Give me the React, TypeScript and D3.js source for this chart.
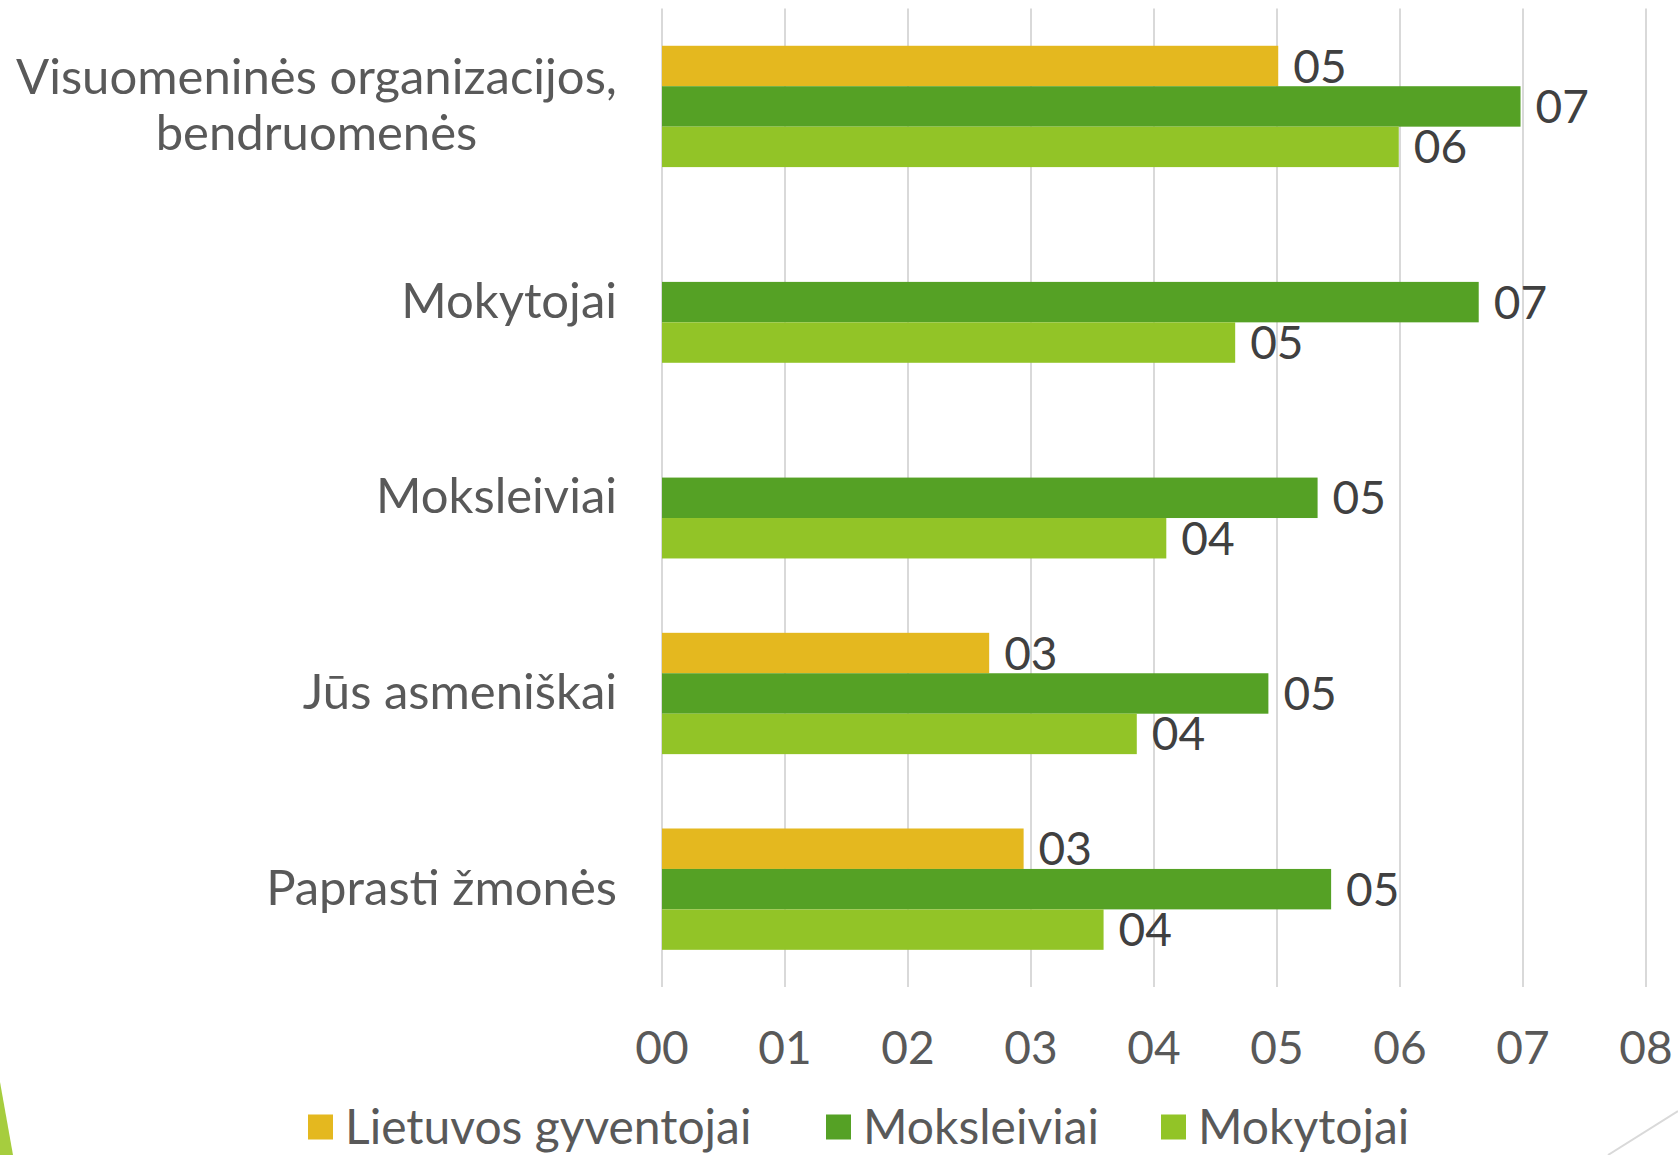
import * as d3 from 'd3';
import React, { useEffect, useRef } from 'react';

const categories = [
  'Visuomeninės organizacijos,\nbendruomenės',
  'Mokytojai',
  'Moksleiviai',
  'Jūs asmeniškai',
  'Paprasti žmonės',
];
const seriesNames = ['Lietuvos gyventojai', 'Moksleiviai', 'Mokytojai'];
const seriesColors = ['#E4B81F', '#55A125', '#92C427'];

// (labels are rounded to whole numbers)
const gyventojai = [5.01, null, null, 2.66, 2.94];
const moksleiviai = [6.98, 6.64, 5.33, 4.93, 5.44];
const mokytojai = [5.99, 4.66, 4.1, 3.86, 3.59];
const xTicks = [0, 1, 2, 3, 4, 5, 6, 7, 8];

const W = 1678;
const H = 1155;
const FONT = 'Lato, "Open Sans", sans-serif';

export default function App() {
  const ref = useRef<SVGSVGElement>(null);

  useEffect(() => {
    const svg = d3.select(ref.current);
    svg.selectAll('*').remove();

    const x = d3.scaleLinear().domain([0, 8]).range([662, 1646]);
    const y = d3.scaleBand<string>().domain(categories).range([8.6, 987]).paddingInner(0.38).paddingOuter(0.19);
    const ySub = d3.scaleBand<string>().domain(seriesNames).range([0, y.bandwidth()]);
    const color = d3.scaleOrdinal<string>().domain(seriesNames).range(seriesColors);
    const fmt = d3.format('02.0f');

    const values = [gyventojai, moksleiviai, mokytojai];
    const rows = categories.flatMap((c, i) =>
      seriesNames.map((s, j) => ({ cat: c, series: s, value: values[j][i] })).filter((d) => d.value != null)
    ) as { cat: string; series: string; value: number }[];

    // decorations from the slide
    svg.append('polygon').attr('points', '0,1082 0,1155 13,1155').attr('fill', '#A6CD3E');
    svg.append('line').attr('x1', 1608).attr('y1', 1155).attr('x2', 1678).attr('y2', 1111)
      .attr('stroke', '#D9D9D9').attr('stroke-width', 2);

    // grid
    svg.append('g').selectAll('line').data(xTicks).join('line')
      .attr('x1', (d) => x(d)).attr('x2', (d) => x(d))
      .attr('y1', 8.6).attr('y2', 987)
      .attr('stroke', '#D9D9D9').attr('stroke-width', 2);

    // bars
    svg.append('g').selectAll('rect').data(rows).join('rect')
      .attr('x', x(0))
      .attr('y', (d) => y(d.cat)! + ySub(d.series)!)
      .attr('width', (d) => x(d.value) - x(0))
      .attr('height', ySub.bandwidth())
      .attr('fill', (d) => color(d.series));

    // data labels
    svg.append('g').selectAll('text').data(rows).join('text')
      .attr('x', (d) => x(d.value) + 15)
      .attr('y', (d) => y(d.cat)! + ySub(d.series)! + ySub.bandwidth() / 2)
      .attr('dy', '0.36em')
      .attr('font-family', FONT).attr('font-size', 46).attr('fill', '#404040')
      .text((d) => fmt(d.value));

    // x tick labels
    svg.append('g').selectAll('text').data(xTicks).join('text')
      .attr('x', (d) => x(d)).attr('y', 1047).attr('dy', '0.36em')
      .attr('text-anchor', 'middle')
      .attr('font-family', FONT).attr('font-size', 46).attr('fill', '#595959')
      .text((d) => d3.format('02d')(d));

    // category labels: right edge at 617, lines centred within block
    const catG = svg.append('g');
    categories.forEach((c) => {
      const lines = c.split('\n');
      const cy = y(c)! + y.bandwidth() / 2;
      const lh = 56;
      const t = catG.append('text')
        .attr('font-family', FONT).attr('font-size', 49).attr('fill', '#595959')
        .attr('text-anchor', 'middle');
      lines.forEach((ln, i) => {
        t.append('tspan').attr('x', 0)
          .attr('y', cy - 2 + (i - (lines.length - 1) / 2) * lh)
          .attr('dy', '0.36em').text(ln);
      });
      const w = (t.node() as SVGTextElement).getBBox().width;
      t.attr('transform', `translate(${617 - w / 2},0)`);
    });

    // legend
    const legendX = [308, 826, 1161];
    const lg = svg.append('g').selectAll('g').data(seriesNames).join('g')
      .attr('transform', (_, i) => `translate(${legendX[i]},1127)`);
    lg.append('rect').attr('x', 0).attr('y', -12.5).attr('width', 25).attr('height', 25)
      .attr('fill', (d) => color(d));
    lg.append('text').attr('x', 37).attr('dy', '0.36em')
      .attr('font-family', FONT).attr('font-size', 48).attr('fill', '#595959')
      .text((d) => d);
  });

  return (
    <svg ref={ref} width={W} height={H} style={{ position: 'absolute', left: 0, top: 0, background: '#fff' }} />
  );
}
